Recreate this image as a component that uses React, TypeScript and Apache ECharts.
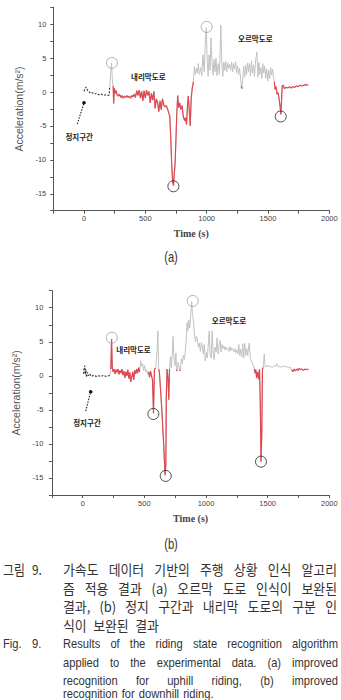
import React, { useEffect, useRef } from "react";
import * as echarts from "echarts";

type P = [number, number];

// ---- axes ----
const X_MIN = -250, X_MAX = 2000, X_STEP = 250, X_LABEL_STEP = 500;
const Y_MIN = -17.5, Y_MAX = 12.5, Y_STEP = 2.5, Y_LABEL_STEP = 5;
const X_NAME = "Time (s)";
const Y_NAME = "Acceleration(m/s²)";

// ---- chart (a) ----
const A_STOP: P[] = [[0,0.1],[8,0.5],[18,0.75],[28,0.3],[40,0.1],[55,-0.2],[70,-0.1],[85,-0.3],[100,-0.2],[120,-0.4],[140,-0.3],[160,-0.5],[180,-0.4],[200,-0.5],[206,-0.4],[210,0.9]];
const A_TRACE: P[] = [
  [210,0.9],[218,2.8],[225,4.3],[232,1.5],[238,0.9],[242,-1.7],[248,0.6],[255,-0.2],[262,0.2],[270,-0.4],
  [280,-0.6],[290,-0.3],[300,-0.8],[310,-0.5],[320,-0.9],[330,-0.6],[340,-0.8],[350,-0.5],[360,-0.8],[370,-0.6],
  [380,-0.9],[390,-0.5],[400,-0.7],[410,-0.3],[420,-0.8],[430,0.2],[440,-0.5],[450,0.3],[460,-0.9],[470,0.1],
  [480,-1.3],[490,0.2],[500,-0.9],[510,0.3],[520,-0.5],[530,0.1],[540,-1.6],[550,-0.2],[560,-1.2],[570,0.1],
  [580,-2.4],[590,-1.0],[600,-1.5],[610,-2.9],[620,-1.3],[630,-2.6],[640,-1.0],[650,-1.9],[660,-2.2],[670,-2.0],
  [680,-2.4],[690,-3.0],[700,-3.6],[708,-7],[716,-11],[724,-13.4],[730,-13.8],[736,-12],[742,-10.8],[748,-8],
  [756,-3.5],[764,-0.5],[772,-2.3],[780,-1.6],[790,-2.6],[800,-2.0],[810,-3.6],[820,-4.2],[828,-3.8],[836,-4.8],
  [844,-2.0],[850,-0.6],[858,-2.5],[866,-5.0],[874,-1.0],[882,0.5],[892,1.5],[900,3.8],[908,2.6],[916,3.5],
  [924,2.8],[932,4.2],[940,2.6],[950,3.6],[960,2.4],[970,5.5],[980,3.0],[990,7.8],[998,9.5],[1004,5.0],
  [1012,2.3],[1020,5.5],[1028,3.2],[1036,8.0],[1044,4.5],[1052,2.5],[1060,4.8],[1068,3.0],[1076,5.0],[1084,2.4],
  [1094,4.2],[1104,2.6],[1116,9.9],[1124,4.0],[1132,2.3],[1140,4.4],[1148,3.2],[1156,4.5],[1164,3.0],[1172,4.3],
  [1180,3.5],[1188,4.1],[1196,3.2],[1204,4.4],[1212,3.0],[1220,4.2],[1228,3.4],[1236,4.5],[1244,2.8],[1252,3.9],
  [1260,2.6],[1268,3.5],[1276,2.2],[1282,0.9],[1288,0.5],[1294,1.8],[1302,3.8],[1310,2.2],[1318,4.0],[1326,2.6],
  [1334,4.3],[1342,3.0],[1350,4.2],[1358,2.4],[1366,4.6],[1374,2.8],[1382,4.0],[1390,2.3],[1400,4.8],[1410,5.9],
  [1418,2.2],[1426,4.4],[1434,2.6],[1442,3.6],[1450,2.0],[1458,4.2],[1466,2.8],[1474,3.8],[1482,2.0],[1490,3.4],
  [1498,1.6],[1506,3.2],[1514,2.0],[1522,3.6],[1530,2.5],[1538,3.4],[1546,2.0],[1552,1.5],[1558,0.4],[1566,0.8],
  [1574,-0.3],[1582,-0.1],[1590,-0.9],[1598,-2.0],[1605,-3.3],[1610,-1.5],[1616,0.9],[1624,1.0],[1634,0.5],[1648,0.7],
  [1662,0.6],[1676,0.8],[1690,0.6],[1704,0.8],[1718,0.7],[1732,0.9],[1746,0.8],[1760,1.0],[1774,0.9],[1788,1.0],
  [1802,1.1],[1816,1.0],[1828,1.1]
];
const A_DOWNHILL: P[] = [[238, 892], [1280, 1290], [1552, 1830]];
const A_PEAKS: P[] = [[228, 4.3], [1000, 9.6]];
const A_DIPS: P[] = [[729, -13.9], [1604, -3.6]];

// ---- chart (b) ----
const B_STOP: P[] = [[5,0.3],[10,0.9],[16,1.5],[20,0.2],[25,1.0],[30,-0.2],[38,0.5],[45,0.0],[55,0.3],[70,-0.1],[90,0.1],[110,-0.1],[130,0.0],[150,-0.1],[170,0.1],[190,-0.1],[210,0.0],[222,0.1]];
const B_TRACE: P[] = [
  [222,0.1],[228,1.0],[234,5.4],[240,1.1],[246,0.6],[254,1.0],[262,0.3],[270,0.9],[278,0.5],[286,1.0],
  [294,0.2],[302,0.8],[310,0.4],[318,1.0],[326,0.1],[334,0.7],[342,-0.3],[350,0.6],[358,0.0],[366,0.9],
  [374,-0.4],[382,0.5],[390,-0.9],[398,-0.2],[406,0.6],[414,-0.6],[422,0.8],[430,0.3],[438,1.0],[446,0.4],
  [454,1.2],[462,0.6],[470,2.2],[478,1.4],[486,1.8],[494,0.8],[502,1.5],[510,0.6],[518,0.9],[526,0.2],
  [534,0.6],[542,-0.2],[550,0.7],[558,0.0],[566,-0.6],[574,-5.5],[582,1.0],[592,1.1],[602,3.5],[610,6.6],
  [616,1.0],[622,0.5],[640,-4.5],[655,-9.5],[668,-14.6],[674,-13.0],[678,-3],[684,1.0],[692,-0.5],[698,-3.5],
  [704,1.0],[712,2.8],[718,1.2],[726,3.0],[733,5.8],[740,2.6],[748,1.5],[756,3.3],[760,0.9],[766,0.7],
  [772,2.0],[780,1.5],[788,0.7],[792,0.9],[800,2.5],[808,1.8],[816,3.0],[824,2.4],[832,3.6],[840,5.5],
  [846,7.8],[853,6.6],[860,8.2],[868,7.0],[876,9.0],[884,10.9],[890,9.0],[898,8.0],[906,6.2],[914,5.0],
  [922,5.8],[930,5.4],[938,4.2],[946,4.8],[954,3.6],[962,4.9],[970,4.4],[978,3.2],[986,4.6],[994,2.2],
  [1002,3.4],[1010,2.6],[1018,4.4],[1026,6.6],[1034,3.0],[1042,2.6],[1050,6.6],[1058,3.4],[1066,2.4],[1074,4.2],
  [1082,3.5],[1090,5.6],[1098,3.2],[1106,4.4],[1114,5.2],[1122,3.5],[1130,4.6],[1138,4.0],[1146,4.4],[1154,3.8],
  [1162,4.2],[1170,3.9],[1178,4.0],[1186,3.6],[1194,4.3],[1202,3.7],[1210,4.1],[1218,3.8],[1226,3.5],[1234,4.0],
  [1242,3.4],[1250,3.8],[1258,3.2],[1266,4.6],[1274,3.0],[1282,3.9],[1290,2.8],[1298,4.7],[1306,2.6],[1314,4.8],
  [1322,3.0],[1330,4.0],[1338,3.0],[1350,4.8],[1360,2.5],[1372,2.0],[1384,1.5],[1392,1.0],[1398,0.4],[1404,0.9],
  [1410,-0.3],[1418,0.6],[1426,-0.5],[1434,1.0],[1440,-4],[1446,-12.6],[1452,-9],[1458,1.2],[1464,1.0],[1472,3.2],
  [1480,1.3],[1490,1.3],[1502,1.6],[1514,1.3],[1526,1.4],[1538,1.2],[1550,1.5],[1562,1.4],[1574,1.8],[1586,1.3],
  [1598,1.4],[1610,1.2],[1622,1.5],[1634,1.3],[1646,1.4],[1658,1.3],[1670,1.2],[1682,1.3],[1694,0.9],[1706,0.6],
  [1716,1.0],[1726,0.7],[1736,1.0],[1746,0.8],[1756,1.1],[1766,0.9],[1776,1.0],[1790,0.8],[1804,1.0],[1818,0.9],
  [1830,1.0]
];
const B_DOWNHILL: P[] = [[228, 462], [534, 592], [616, 704], [758, 768], [786, 794], [1392, 1458], [1694, 1830]];
const B_PEAKS: P[] = [[236, 5.6], [892, 11.0]];
const B_DIPS: P[] = [[573, -5.6], [673, -14.7], [1446, -12.6]];

// ---- texts ----
const LABEL_DOWN = "내리막도로";
const LABEL_UP = "오르막도로";
const LABEL_STOP = "정지구간";
const PANEL_LABELS = ["(a)", "(b)"];
const CAPTION_KO_HEAD = ["그림", "9."];
const CAPTION_KO = [
  "가속도 데이터 기반의 주행 상황 인식 알고리",
  "즘 적용 결과 (a) 오르막 도로 인식이 보완된",
  "결과, (b) 정지 구간과 내리막 도로의 구분 인",
  "식이 보완된 결과",
];
const CAPTION_EN_HEAD = ["Fig.", "9."];
const CAPTION_EN = [
  "Results of the riding state recognition algorithm",
  "applied to the experimental data. (a) improved",
  "recognition for uphill riding, (b) improved",
  "recognition for downhill riding.",
];

const KO_FONT = '"Noto Sans CJK KR", sans-serif';
const EN_FONT = '"Liberation Sans", Arial, sans-serif';

function xAxisCfg(gi: number) {
  return {
    type: "value", gridIndex: gi, min: X_MIN, max: X_MAX, interval: X_STEP,
    axisLine: { show: true, onZero: false, lineStyle: { color: "#555", width: 1 } },
    axisTick: { show: true, length: 3, inside: false, lineStyle: { color: "#555" } },
    splitLine: { show: false },
    axisLabel: {
      formatter: (v: number) => (v % X_LABEL_STEP === 0 ? String(v) : ""),
      fontSize: 7.5, color: "#444", margin: 4, fontFamily: EN_FONT,
    },
    name: X_NAME, nameLocation: "middle", nameGap: 18,
    nameTextStyle: { fontFamily: '"Liberation Serif", serif', fontWeight: "bold", fontSize: 10, color: "#444" },
  };
}
function yAxisCfg(gi: number, margin: number) {
  return {
    type: "value", gridIndex: gi, min: Y_MIN, max: Y_MAX, interval: Y_STEP,
    axisLine: { show: true, onZero: false, lineStyle: { color: "#555", width: 1 } },
    axisTick: { show: true, length: 3, inside: false, lineStyle: { color: "#555" } },
    splitLine: { show: false },
    axisLabel: {
      formatter: (v: number) => (v % Y_LABEL_STEP === 0 ? String(v) : ""),
      fontSize: 7.5, color: "#444", margin, fontFamily: EN_FONT,
    },
    name: Y_NAME, nameLocation: "middle", nameGap: 28,
    nameTextStyle: { fontFamily: EN_FONT, fontSize: 10.5, color: "#555" },
  };
}

function seriesFor(gi: number, stop: P[], trace: P[], ranges: P[], peaks: P[], dips: P[]) {
  const red = trace.map(([t, v]) => (ranges.some(([a, b]) => t >= a && t <= b) ? [t, v] : [t, "-"]));
  const base = { xAxisIndex: gi, yAxisIndex: gi, silent: true };
  return [
    { ...base, type: "line", data: trace, symbol: "none", lineStyle: { color: "#c2c2c2", width: 1 }, z: 2 },
    { ...base, type: "line", data: red, symbol: "none", connectNulls: false, lineStyle: { color: "#e2474f", width: 1.2 }, z: 3 },
    { ...base, type: "line", data: stop, symbol: "none", lineStyle: { color: "#333", width: 1.1, type: [2, 1.5] }, z: 3 },
    { ...base, type: "scatter", data: peaks, symbol: "circle", symbolSize: 11,
      itemStyle: { color: "rgba(0,0,0,0)", borderColor: "#9c9c9c", borderWidth: 1 }, z: 4 },
    { ...base, type: "scatter", data: dips, symbol: "circle", symbolSize: 11,
      itemStyle: { color: "rgba(0,0,0,0)", borderColor: "#222", borderWidth: 1 }, z: 4 },
  ];
}

function txt(text: string, x: number, y: number, font: string, opts: any = {}) {
  return {
    type: "text", x, y, scaleX: opts.scaleX ?? 1, z: 10, silent: true,
    style: {
      text, x: 0, y: 0, font, fill: opts.fill ?? "#222",
      textAlign: opts.align ?? "left", align: opts.align ?? "left",
      textVerticalAlign: "middle", verticalAlign: "middle",
    },
  };
}

export default function App() {
  const ref = useRef<HTMLDivElement>(null);
  useEffect(() => {
    if (!ref.current) return;
    const chart = echarts.init(ref.current, undefined, { renderer: "svg" });
    const ctx = document.createElement("canvas").getContext("2d")!;

    const lineWords = (line: string, font: string, scale: number, y: number, x0: number, x1: number,
                       justify: boolean, gap: number, fill: string) => {
      ctx.font = font;
      const words = line.split(" ");
      const raw = words.map((w) => ctx.measureText(w).width);
      const total = raw.reduce((a, b) => a + b, 0);
      let s = scale;
      if (justify && words.length > 1) {
        const maxS = (x1 - x0 - 3 * (words.length - 1)) / total;
        if (s > maxS) s = maxS;
      }
      const widths = raw.map((w) => w * s);
      const sum = widths.reduce((a, b) => a + b, 0);
      const g = justify && words.length > 1 ? (x1 - x0 - sum) / (words.length - 1) : gap;
      let x = x0;
      return words.map((w, i) => {
        const el = txt(w, x, y, font, { scaleX: s, fill });
        x += widths[i] + g;
        return el;
      });
    };

    const koFont = `14px ${KO_FONT}`;
    const enFont = `13px ${EN_FONT}`;
    const koY = [569, 587.3, 605.7, 624.3];
    const enY = [644, 662.3, 680.7, 693.5];
    const cap: any[] = [];
    CAPTION_KO.forEach((l, i) => cap.push(...lineWords(l, koFont, 0.92, koY[i], 63, 337, i < CAPTION_KO.length - 1, 6.5, "#333")));
    CAPTION_EN.forEach((l, i) => cap.push(...lineWords(l, enFont, 0.86, enY[i], 63, 338, i < CAPTION_EN.length - 1, 4, "#333")));
    cap.push(txt(CAPTION_KO_HEAD[0], 3, koY[0], koFont, { scaleX: 0.85, fill: "#333" }));
    cap.push(txt(CAPTION_KO_HEAD[1], 32, koY[0], koFont, { scaleX: 0.85, fill: "#333" }));
    cap.push(txt(CAPTION_EN_HEAD[0], 3, enY[0], enFont, { scaleX: 0.86, fill: "#333" }));
    cap.push(txt(CAPTION_EN_HEAD[1], 32, enY[0], enFont, { scaleX: 0.86, fill: "#333" }));

    const annFont = `bold 7.5px ${KO_FONT}`;
    const arrow = (x0: number, y0: number, x1: number, y1: number) => [
      { type: "line", z: 10, silent: true, shape: { x1: x0, y1: y0, x2: x1, y2: y1 },
        style: { stroke: "#222", lineWidth: 1.1, lineDash: [1.5, 1.3] } },
      { type: "circle", z: 10, silent: true, shape: { cx: x1, cy: y1, r: 1.8 }, style: { fill: "#111" } },
    ];

    const graphic: any[] = [
      txt(LABEL_DOWN, 148.3, 76, annFont, { align: "center" }),
      txt(LABEL_UP, 255.3, 38.3, annFont, { align: "center" }),
      txt(LABEL_STOP, 79.2, 136, annFont, { align: "center" }),
      ...arrow(77.3, 124, 84, 102.7),
      txt(LABEL_DOWN, 133.5, 349.5, annFont, { align: "center" }),
      txt(LABEL_UP, 229, 320, annFont, { align: "center" }),
      txt(LABEL_STOP, 87, 422.5, annFont, { align: "center" }),
      ...arrow(85.7, 411, 90.7, 391.7),
      txt(PANEL_LABELS[0], 171, 258, `14px ${EN_FONT}`, { align: "center", scaleX: 0.8, fill: "#333" }),
      txt(PANEL_LABELS[1], 171, 545, `14px ${EN_FONT}`, { align: "center", scaleX: 0.8, fill: "#333" }),
      ...cap,
    ];

    chart.setOption({
      animation: false,
      backgroundColor: "#fff",
      grid: [
        { left: 53.3, top: 7.3, right: 11.7, bottom: 700 - 210.7, outerBoundsMode: "none" },
        { left: 51.9, top: 290.7, right: 11.7, bottom: 700 - 495, outerBoundsMode: "none" },
      ],
      xAxis: [xAxisCfg(0), xAxisCfg(1)],
      yAxis: [yAxisCfg(0, 7), yAxisCfg(1, 8.5)],
      series: [
        ...seriesFor(0, A_STOP, A_TRACE, A_DOWNHILL, A_PEAKS, A_DIPS),
        ...seriesFor(1, B_STOP, B_TRACE, B_DOWNHILL, B_PEAKS, B_DIPS),
      ],
      graphic,
    });
    return () => chart.dispose();
  }, []);
  return <div ref={ref} style={{ position: "absolute", left: 0, top: 0, width: 341, height: 700, background: "#fff" }} />;
}
